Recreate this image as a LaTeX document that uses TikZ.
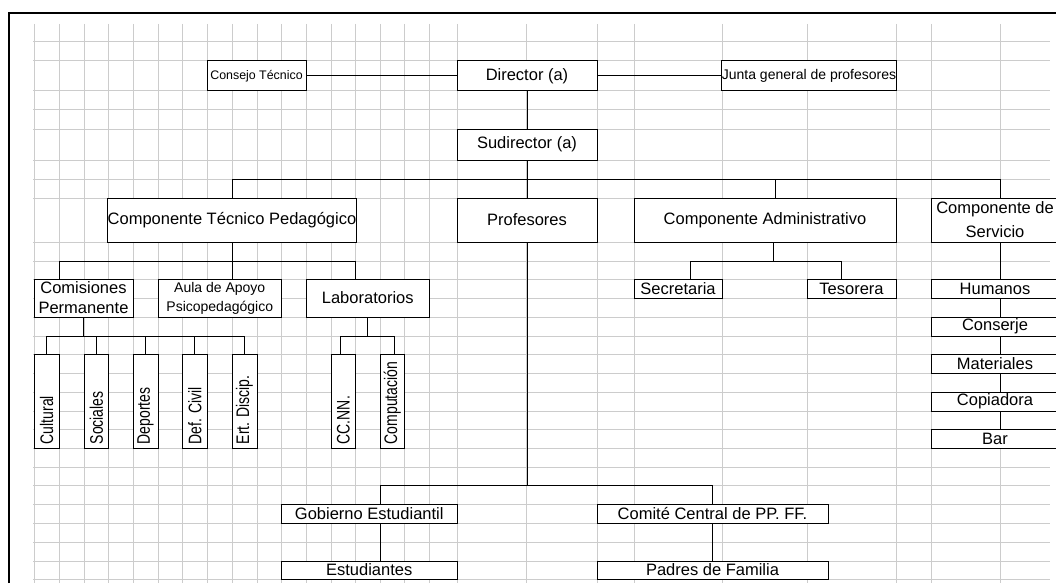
\documentclass[tikz,border=0pt]{standalone}
\usepackage{fontspec}
\setmainfont{Liberation Sans}
\newcommand\boxat[7]{\node[#1, minimum width={(#5)-(#3)}, minimum height={(#6)-(#4)}] (#2) at ({((#3)+(#5))/2},{((#4)+(#6))/2}) {#7};}
\begin{document}
\begin{tikzpicture}[x=1pt,y=-1pt,
  gridline/.style={draw=black!20, line width=1pt},
  frameline/.style={draw=black, line width=2pt},
  box/.style={draw=black, fill=white, line width=1pt, inner sep=0pt, align=center, font=\fontsize{16.5}{20}\selectfont},
  smallbox/.style={box, font=\fontsize{14}{19}\selectfont},
  tinybox/.style={box, font=\fontsize{12.4}{14}\selectfont},
  twoline/.style={box, font=\fontsize{16.5}{24}\selectfont},
  vtext/.style={rotate=90, yscale=1.3, anchor=west, inner sep=0pt, font=\fontsize{14}{16}\selectfont},
  conn/.style={draw=black, line width=1pt}]
\useasboundingbox (0,0) rectangle (1056,583);
\fill[white] (0,0) rectangle (1056,583);
\begin{scope}
\clip (0,0) rectangle (1056,583);
% grid
\foreach \gx in {34,59,84,108.5,133,158,182.5,207,232,257,281.5,306,331,355.5,380,404.5,429.5,457,526,597,634,722,807,896,931,1000}
  \draw[gridline] (\gx,24) -- (\gx,583);
\foreach \gy in {42,61,91,110,129,160,179,198,242,261,279,298,317,336,354,373,392,411,429,448,467,485,504,523,542,561,579}
  \draw[gridline] (33,\gy) -- (1050,\gy);
% top level
\boxat{tinybox}{consejo}{207}{61}{306}{91}{Consejo Técnico}
\boxat{box}{director}{457}{61}{597}{91}{Director (a)}
\boxat{smallbox}{junta}{722}{61}{896}{91}{Junta general de profesores}
\boxat{box}{sudir}{457}{129}{597}{160}{Sudirector (a)}
% level 2
\boxat{box}{ctp}{108.5}{198}{355.5}{242}{Componente Técnico Pedagógico}
\boxat{box}{prof}{457}{198}{597}{242}{Profesores}
\boxat{box}{admin}{634}{198}{896}{242}{Componente Administrativo}
\boxat{twoline}{serv}{931}{198}{1059}{242}{Componente de\\Servicio}
% level 3
\boxat{box}{comis}{34}{279}{133}{317}{Comisiones\\Permanente}
\boxat{smallbox}{aula}{158}{279}{281.5}{317}{Aula de Apoyo\\Psicopedagógico}
\boxat{box}{labs}{306}{279}{429.5}{317}{Laboratorios}
\boxat{box}{secr}{634}{279}{722}{298}{Secretaria}
\boxat{box}{teso}{807}{279}{896}{298}{Tesorera}
\boxat{box}{humanos}{931}{279}{1059}{298}{Humanos}
\boxat{box}{conserje}{931}{317}{1059}{336}{Conserje}
\boxat{box}{materiales}{931}{354}{1059}{373}{Materiales}
\boxat{box}{copiadora}{931}{392}{1059}{411}{Copiadora}
\boxat{box}{bar}{931}{429}{1059}{448}{Bar}
% vertical boxes
\boxat{box}{cult}{34}{354}{59}{448}{}
\boxat{box}{soci}{84}{354}{108.5}{448}{}
\boxat{box}{depo}{133}{354}{158}{448}{}
\boxat{box}{defc}{182.5}{354}{207}{448}{}
\boxat{box}{ertd}{232}{354}{257}{448}{}
\boxat{box}{ccnn}{331}{354}{355.5}{448}{}
\boxat{box}{comp}{380}{354}{404.5}{448}{}
\node[vtext] (cultt) at ([yshift=4pt]cult.south) {Cultural};
\node[vtext] (socit) at ([yshift=4pt]soci.south) {Sociales};
\node[vtext] (depot) at ([yshift=4pt]depo.south) {Deportes};
\node[vtext] (defct) at ([yshift=4pt]defc.south) {Def. Civil};
\node[vtext] (ertdt) at ([yshift=4pt]ertd.south) {Ert. Discip.};
\node[vtext] (ccnnt) at ([yshift=4pt]ccnn.south) {CC.NN.};
\node[vtext] (compt) at ([yshift=4pt]comp.south) {Computación};
% bottom
\boxat{box}{gob}{281.5}{504}{457}{523}{Gobierno Estudiantil}
\boxat{box}{est}{281.5}{561}{457}{579}{Estudiantes}
\boxat{box}{comite}{597}{504}{828}{523}{Comité Central de PP. FF.}
\boxat{box}{padres}{597}{561}{828}{579}{Padres de Familia}
% connectors
\draw[conn] (consejo.east) -- (director.west);
\draw[conn] (director.east) -- (junta.west);
\draw[conn] (director.south) -- (sudir.north);
\coordinate (busA) at (527,179);
\draw[conn] (sudir.south) -- (busA);
\draw[conn] (busA) -| (ctp.north);
\draw[conn] (busA) -| (prof.north);
\draw[conn] (busA) -| ([xshift=10pt]admin.north);
\draw[conn] (busA) -| ([xshift=5pt]serv.north);
\coordinate (busB) at (232,261);
\draw[conn] (ctp.south) -- (busB);
\draw[conn] (busB) -| ([xshift=-24.5pt]comis.north);
\draw[conn] (busB) -| ([xshift=12.25pt]aula.north);
\draw[conn] (busB) -| ([xshift=-12.5pt]labs.north);
\coordinate (busC) at (83.5,336);
\draw[conn] (comis.south) -- (busC);
\foreach \n in {cult,soci,depo,defc,ertd} \draw[conn] (busC) -| (\n.north);
\coordinate (busD) at (367.75,336);
\draw[conn] (labs.south) -- (busD);
\draw[conn] (busD) -| ([xshift=-3pt]ccnn.north);
\draw[conn] (busD) -| ([xshift=2pt]comp.north);
\coordinate (busE) at (773,261);
\draw[conn] ([xshift=8pt]admin.south) -- (busE);
\draw[conn] (busE) -| ([xshift=12pt]secr.north);
\draw[conn] (busE) -| ([xshift=-10.5pt]teso.north);
\draw[conn] ([xshift=5pt]serv.south) -- ([xshift=5pt]humanos.north);
\draw[conn] ([xshift=5pt]humanos.south) -- ([xshift=5pt]conserje.north);
\draw[conn] ([xshift=5pt]conserje.south) -- ([xshift=5pt]materiales.north);
\draw[conn] ([xshift=5pt]materiales.south) -- ([xshift=5pt]copiadora.north);
\draw[conn] ([xshift=5pt]copiadora.south) -- ([xshift=5pt]bar.north);
\coordinate (busF) at (527,485);
\draw[conn] (prof.south) -- (busF);
\draw[conn] (busF) -| ([xshift=10.75pt]gob.north);
\draw[conn] (busF) -| (comite.north);
\draw[conn] ([xshift=10.75pt]gob.south) -- ([xshift=10.75pt]est.north);
\draw[conn] (comite.south) -- (padres.north);
\end{scope}
% frame
\draw[frameline] (9,583) -- (9,13) -- (1056,13);
\end{tikzpicture}
\end{document}
